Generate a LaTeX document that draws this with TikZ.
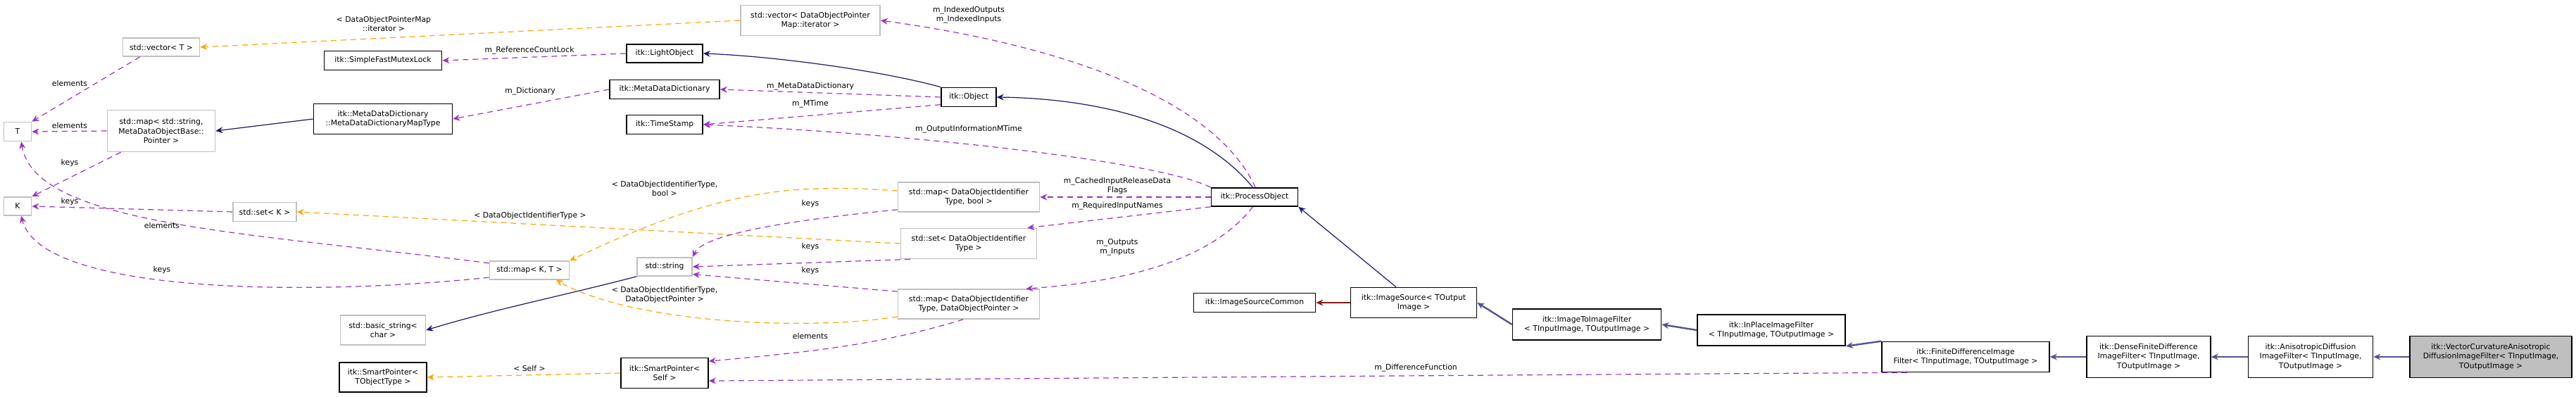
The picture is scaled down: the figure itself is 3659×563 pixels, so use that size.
\documentclass[tikz,border=0pt]{standalone}
\usepackage{fontspec}
\setmainfont{DejaVu Sans}
\usetikzlibrary{arrows.meta}
\definecolor{purp}{HTML}{9A32CD}
\definecolor{orng}{HTML}{FFA500}
\definecolor{navy}{HTML}{191970}
\definecolor{dred}{HTML}{8B1A1A}
\definecolor{gbord}{HTML}{BFBFBF}
\begin{document}
\begin{tikzpicture}[x=0.5pt,y=-0.5pt,
  every node/.style={font=\fontsize{5.4}{6.6}\selectfont},
  box/.style={draw, line width=0.8pt, align=center, inner sep=0.5pt, fill=white},
  doc/.style={box, draw=black},
  undoc/.style={box, draw=gbord},
  lbl/.style={align=center, inner sep=0.5pt},
  tip/.style={-{Stealth[length=5pt,width=4.5pt]}},
  mem/.style={tip, purp, dashed, line width=0.6pt, dash pattern=on 4pt off 3pt},
  tpl/.style={tip, orng, dashed, line width=0.6pt, dash pattern=on 4pt off 3pt},
  inh/.style={tip, navy, line width=0.6pt},
  inhb/.style={tip, navy!75!white, line width=1.2pt},
]
\useasboundingbox (0,0) rectangle (3659,563);
% nodes
\node[undoc, minimum width=54.5pt, minimum height=13pt] (vecT) at (229,67) {std::vector< T >};
\node[doc, minimum width=83.5pt, minimum height=13.5pt] (mutex) at (544,86) {itk::SimpleFastMutexLock};
\node[undoc, minimum width=19.5pt, minimum height=13.5pt] (T) at (25,187) {T};
\node[undoc, minimum width=76.5pt, minimum height=29.5pt] (mapStr) at (229,186) {std::map< std::string,\\MetaDataObjectBase::\\Pointer >};
\node[doc, minimum width=98.5pt, minimum height=21.5pt] (mapType) at (544,169) {itk::MetaDataDictionary\\::MetaDataDictionaryMapType};
\node[undoc, minimum width=19.5pt, minimum height=13pt] (K) at (25,293) {K};
\node[undoc, minimum width=45pt, minimum height=13.5pt] (setK) at (376,301) {std::set< K >};
\node[undoc, minimum width=56.5pt, minimum height=13pt] (mapKT) at (752,384) {std::map< K, T >};
\node[undoc, minimum width=60.5pt, minimum height=21pt] (bstr) at (544,469) {std::basic\_string<\\char >};
\node[doc, minimum width=62pt, minimum height=21pt] (spT) at (544,536) {itk::SmartPointer<\\TObjectType >};
\node[undoc, minimum width=99pt, minimum height=21.5pt] (vecDOPM) at (1151,29) {std::vector< DataObjectPointer\\Map::iterator >};
\node[doc, minimum width=54pt, minimum height=13pt] (light) at (944,76) {itk::LightObject};
\node[doc, minimum width=78pt, minimum height=13.5pt] (mdd) at (944,127) {itk::MetaDataDictionary};
\node[doc, minimum width=54pt, minimum height=13.5pt] (ts) at (944,177) {itk::TimeStamp};
\node[doc, minimum width=39pt, minimum height=13.5pt] (obj) at (1376,138) {itk::Object};
\node[doc, minimum width=61.5pt, minimum height=13pt] (po) at (1782,280) {itk::ProcessObject};
\node[undoc, minimum width=100.5pt, minimum height=21pt] (mapBool) at (1376,280) {std::map< DataObjectIdentifier\\Type, bool >};
\node[undoc, minimum width=96.5pt, minimum height=21.5pt] (setDOIT) at (1376,346) {std::set< DataObjectIdentifier\\Type >};
\node[undoc, minimum width=39pt, minimum height=13pt] (str) at (944,379) {std::string};
\node[undoc, minimum width=100.5pt, minimum height=21pt] (mapPtr) at (1376,432) {std::map< DataObjectIdentifier\\Type, DataObjectPointer >};
\node[doc, minimum width=62pt, minimum height=21.5pt] (spSelf) at (944,530) {itk::SmartPointer<\\Self >};
\node[doc, minimum width=86.5pt, minimum height=13.5pt] (isc) at (1782,430) {itk::ImageSourceCommon};
\node[doc, minimum width=89.5pt, minimum height=21.5pt] (is) at (2008,430) {itk::ImageSource< TOutput\\Image >};
\node[doc, minimum width=105.5pt, minimum height=22pt] (i2i) at (2254,461) {itk::ImageToImageFilter\\< TInputImage, TOutputImage >};
\node[doc, minimum width=105pt, minimum height=22pt] (inplace) at (2516,469) {itk::InPlaceImageFilter\\< TInputImage, TOutputImage >};
\node[doc, minimum width=119pt, minimum height=21.5pt] (fdi) at (2792,507) {itk::FiniteDifferenceImage\\Filter< TInputImage, TOutputImage >};
\node[doc, minimum width=88pt, minimum height=29.5pt] (dense) at (3052,507) {itk::DenseFiniteDifference\\ImageFilter< TInputImage,\\ TOutputImage >};
\node[doc, minimum width=88.5pt, minimum height=29.5pt] (aniso) at (3282,507) {itk::AnisotropicDiffusion\\ImageFilter< TInputImage,\\ TOutputImage >};
\node[doc, fill=gbord, minimum width=115pt, minimum height=29.5pt] (vcad) at (3538,507) {itk::VectorCurvatureAnisotropic\\DiffusionImageFilter< TInputImage,\\ TOutputImage >};
% member edges (left)
\draw[mem] (vecT.south west) ++(25,0) -- (T.north east);
\draw[mem] (mapStr.west) -- (T.east);
\draw[mem] (mapStr.south west) ++(20,0) -- (K.north east);
\draw[mem] (setK.west) -- (K.east);
\draw[mem] (mapKT.170) .. controls (350,330) and (50,320) .. (T.-70);
\draw[mem] (mapKT.190) .. controls (450,420) and (60,420) .. (K.-70);
% template edges
\draw[tpl] (vecDOPM.west) -- (vecT.east);
\draw[tpl] (setDOIT.180) -- (setK.east);
\draw[tpl] (mapBool.175) .. controls (1120,260) and (1020,270) .. (mapKT.north east);
\draw[tpl] (mapPtr.190) .. controls (1150,470) and (900,460) .. (mapKT.-20);
\draw[tpl] (spSelf.west) -- (spT.east);
% inheritance
\draw[inh] (mapType.west) -- (mapStr.east);
\draw[inh] (str.south west) .. controls (800,420) and (700,440) .. (bstr.east);
\draw[inh] (obj.north west) .. controls (1250,100) and (1100,80) .. (light.east);
\draw[inh] (po.100) .. controls (1700,170) and (1550,140) .. (obj.east);
\draw[inh] (is.north) ++(-25,0) -- (po.south east);
\draw[tip, dred, line width=0.6pt] (is.west) -- (isc.east);
\draw[inhb] (i2i.west) -- (is.east);
\draw[inhb] (inplace.west) -- (i2i.east);
\draw[inhb] (fdi.north west) -- (inplace.south east);
\draw[inhb] (dense.west) -- (fdi.east);
\draw[inhb] (aniso.west) -- (dense.east);
\draw[inhb] (vcad.west) -- (aniso.east);
% member edges (middle)
\draw[mem] (light.west) -- (mutex.east);
\draw[mem] (mdd.west) -- (mapType.east);
\draw[mem] (obj.west) -- (mdd.east);
\draw[mem] (obj.-165) -- (ts.east);
\draw[mem] (po.north west) .. controls (1650,230) and (1300,190) .. (ts.east);
\draw[mem] (po.85) .. controls (1720,130) and (1480,60) .. (vecDOPM.east);
\draw[mem] (po.west) -- (mapBool.east);
\draw[mem] (po.south west) -- (setDOIT.15);
\draw[mem] (po.-100) .. controls (1720,370) and (1600,400) .. (mapPtr.15);
\draw[mem] (mapBool.-170) .. controls (1150,310) and (1000,330) .. (str.north east);
\draw[mem] (setDOIT.-165) -- (str.east);
\draw[mem] (mapPtr.170) -- (str.-15);
\draw[mem] (mapPtr.-110) .. controls (1250,490) and (1150,500) .. (spSelf.15);
\draw[mem] (fdi.-165) .. controls (2620,530) and (2500,530) .. (spSelf.-10);
% labels
\node[lbl] (l1) at (545,34) {< DataObjectPointerMap\\::iterator >};
\node[lbl] (l2) at (752,72) {m\_ReferenceCountLock};
\node[lbl] (l3) at (99,118) {elements};
\node[lbl] (l4) at (99,178) {elements};
\node[lbl] (l5) at (753,130) {m\_Dictionary};
\node[lbl] (l6) at (99,232) {keys};
\node[lbl] (l7) at (99,287) {keys};
\node[lbl] (l8) at (753,307) {< DataObjectIdentifierType >};
\node[lbl] (l9) at (230,320) {elements};
\node[lbl] (l10) at (230,384) {keys};
\node[lbl] (l11) at (752,523) {< Self >};
\node[lbl] (l12) at (1376,21) {m\_IndexedOutputs\\m\_IndexedInputs};
\node[lbl] (l13) at (1151,123) {m\_MetaDataDictionary};
\node[lbl] (l14) at (1151,148) {m\_MTime};
\node[lbl] (l15) at (1376,184) {m\_OutputInformationMTime};
\node[lbl] (l16) at (1587,264) {m\_CachedInputReleaseData\\Flags};
\node[lbl] (l17) at (1587,293) {m\_RequiredInputNames};
\node[lbl] (l18) at (1587,351) {m\_Outputs\\m\_Inputs};
\node[lbl] (l19) at (1151,290) {keys};
\node[lbl] (l20) at (1151,351) {keys};
\node[lbl] (l21) at (1151,385) {keys};
\node[lbl] (l22) at (1151,477) {elements};
\node[lbl] (l23) at (944,268) {< DataObjectIdentifierType,\\bool >};
\node[lbl] (l24) at (944,419) {< DataObjectIdentifierType,\\DataObjectPointer >};
\node[lbl] (l25) at (2011,523) {m\_DifferenceFunction};
\end{tikzpicture}
\end{document}
